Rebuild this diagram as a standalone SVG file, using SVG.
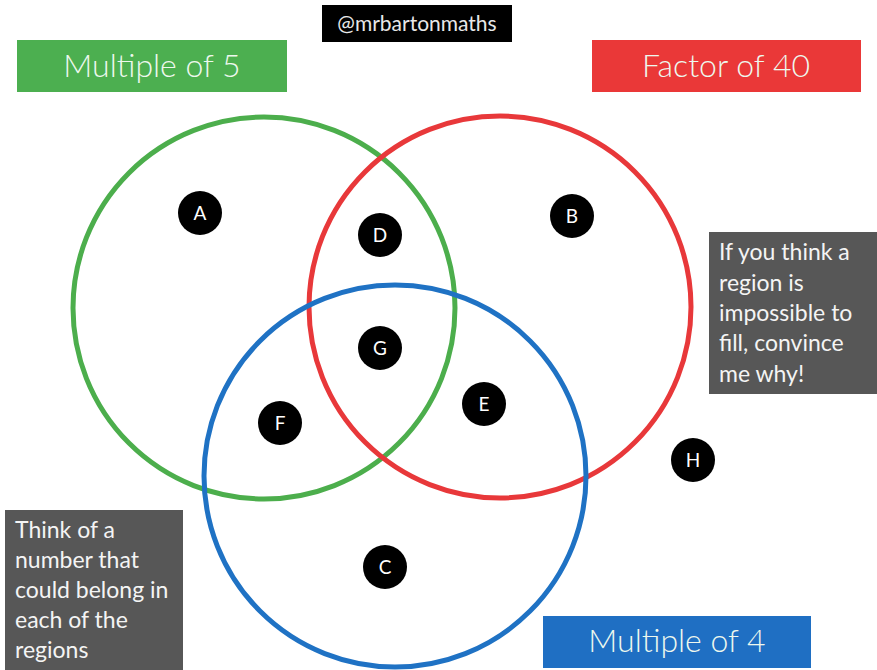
<svg xmlns="http://www.w3.org/2000/svg" width="877" height="670" viewBox="0 0 877 670">
<style>
  text { font-family: Lato, "Open Sans", "Liberation Sans", sans-serif; }
  .set { fill: none; stroke-width: 5; }
  .dot { fill: #000; }
  .dl { fill: #fff; font-size: 19px; text-anchor: middle; }
  .title { fill: #eef8ee; font-size: 32px; font-weight: 300; text-anchor: middle; }
  .note { fill: #575757; }
  .nt { fill: #f4f4f4; font-size: 23px; }
</style>
<rect width="877" height="670" fill="#fff"/>

<g id="tag">
  <rect x="322" y="5" width="190" height="37" fill="#000"/>
  <text x="417" y="31" fill="#e8e8e8" font-size="21" text-anchor="middle">@mrbartonmaths</text>
</g>

<g id="label-mult5">
  <rect x="17" y="40" width="270" height="52" fill="#4caf50"/>
  <text class="title" x="152" y="77">Multiple of 5</text>
</g>
<g id="label-factor40">
  <rect x="592" y="40" width="269" height="52" fill="#ea3838"/>
  <text class="title" x="726" y="77">Factor of 40</text>
</g>
<g id="label-mult4">
  <rect x="543" y="616" width="268" height="52" fill="#1f6fc3"/>
  <text class="title" x="677" y="652">Multiple of 4</text>
</g>

<g id="set-mult5"><circle class="set" cx="264" cy="308" r="191" stroke="#4cae4c"/></g>
<g id="set-factor40"><circle class="set" cx="500" cy="307" r="191" stroke="#e8383a"/></g>
<g id="set-mult4"><circle class="set" cx="395" cy="476" r="191" stroke="#1f72c4"/></g>

<g id="node-A"><circle class="dot" cx="200" cy="213" r="22"/><text class="dl" x="200" y="220">A</text></g>
<g id="node-B"><circle class="dot" cx="572" cy="216" r="22"/><text class="dl" x="572" y="223">B</text></g>
<g id="node-C"><circle class="dot" cx="385" cy="567" r="22"/><text class="dl" x="385" y="574">C</text></g>
<g id="node-D"><circle class="dot" cx="380" cy="235" r="22"/><text class="dl" x="380" y="242">D</text></g>
<g id="node-E"><circle class="dot" cx="484" cy="404" r="22"/><text class="dl" x="484" y="411">E</text></g>
<g id="node-F"><circle class="dot" cx="280" cy="423" r="22"/><text class="dl" x="280" y="430">F</text></g>
<g id="node-G"><circle class="dot" cx="380" cy="348" r="22"/><text class="dl" x="380" y="355">G</text></g>
<g id="node-H"><circle class="dot" cx="693" cy="460" r="22"/><text class="dl" x="693" y="467">H</text></g>

<g id="note-right">
  <rect class="note" x="709" y="232" width="168" height="162"/>
  <text class="nt" x="719" y="260">If you think a</text>
  <text class="nt" x="719" y="291">region is</text>
  <text class="nt" x="719" y="321">impossible to</text>
  <text class="nt" x="719" y="351">fill, convince</text>
  <text class="nt" x="719" y="382">me why!</text>
</g>

<g id="note-left">
  <rect class="note" x="5" y="510" width="178" height="160"/>
  <text class="nt" x="15" y="538">Think of a</text>
  <text class="nt" x="15" y="568">number that</text>
  <text class="nt" x="15" y="598">could belong in</text>
  <text class="nt" x="15" y="628">each of the</text>
  <text class="nt" x="15" y="658">regions</text>
</g>
</svg>
